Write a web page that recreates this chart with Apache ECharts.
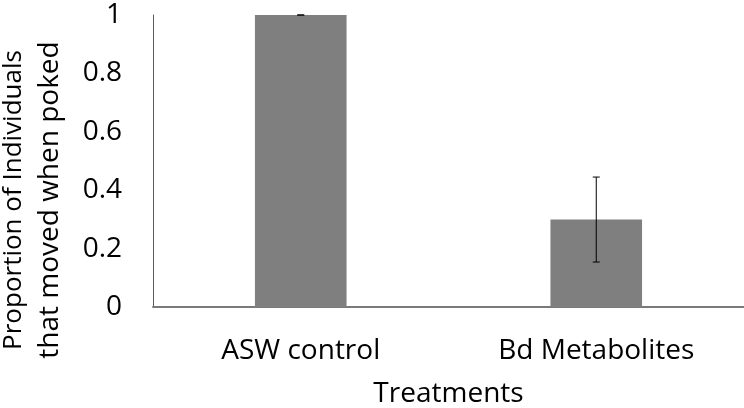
<!DOCTYPE html>
<html>
<head>
<meta charset="utf-8">
<script src="https://cdn.jsdelivr.net/npm/echarts@6/dist/echarts.min.js"></script>
<style>
  html, body { margin: 0; padding: 0; background: #fff; }
  #chart { width: 744px; height: 408px; }
</style>
</head>
<body>
<div id="chart"></div>
<script>
const categories = ["ASW control", "Bd Metabolites"];
const proportions = [1, 0.3];
const errLow = [1, 0.154];
const errHigh = [1, 0.445];
const yTicks = [0, 0.2, 0.4, 0.6, 0.8, 1];

const font = "'Open Sans', 'Noto Sans', sans-serif";

const option = {
  animation: false,
  grid: { left: 153, right: 0, top: 15, bottom: 101, outerBoundsMode: "none" },
  xAxis: {
    type: "category",
    data: categories,
    name: "Treatments",
    nameLocation: "middle",
    nameGap: 73,
    nameTextStyle: { fontFamily: font, fontSize: 28, color: "#000" },
    axisLine: { lineStyle: { color: "#7a7a7a", width: 2 } },
    axisTick: { show: false },
    axisLabel: { fontFamily: font, fontSize: 28, color: "#000", margin: 30 },
  },
  yAxis: {
    type: "value",
    min: 0,
    max: 1,
    interval: 0.2,
    name: "{a|Proportion of Individuals}\n{b|that moved when poked}",
    nameLocation: "middle",
    nameGap: 84,
    nameTextStyle: {
      fontFamily: font, color: "#000",
      padding: [0, 78, 0, 0],
      rich: {
        a: { fontFamily: font, fontSize: 26, color: "#000", lineHeight: 37 },
        b: { fontFamily: font, fontSize: 28, color: "#000", lineHeight: 37 },
      },
    },
    splitLine: { show: false },
    axisLine: { show: true, lineStyle: { color: "#595959", width: 1 } },
    axisTick: { show: false },
    axisLabel: {
      fontFamily: font, fontSize: 28, color: "#000", margin: 31,
      formatter: (v) => (yTicks.includes(+v.toFixed(1)) ? String(+v.toFixed(1)) : ""),
    },
  },
  series: [
    {
      type: "bar",
      data: proportions,
      barWidth: "31%",
      itemStyle: { color: "#7f7f7f" },
    },
    {
      type: "custom",
      data: categories.map((c, i) => [i, errLow[i], errHigh[i]]),
      z: 10,
      renderItem: (params, api) => {
        const lo = api.coord([api.value(0), api.value(1)]);
        const hi = api.coord([api.value(0), api.value(2)]);
        const half = 3.5;
        const style = { stroke: "#000", lineWidth: 1 };
        return {
          type: "group",
          children: [
            { type: "line", shape: { x1: hi[0], y1: hi[1], x2: lo[0], y2: lo[1] }, style },
            { type: "line", shape: { x1: hi[0] - half, y1: hi[1], x2: hi[0] + half, y2: hi[1] }, style },
            { type: "line", shape: { x1: lo[0] - half, y1: lo[1], x2: lo[0] + half, y2: lo[1] }, style },
          ],
        };
      },
    },
  ],
};

echarts.init(document.getElementById("chart")).setOption(option);
</script>
</body>
</html>
